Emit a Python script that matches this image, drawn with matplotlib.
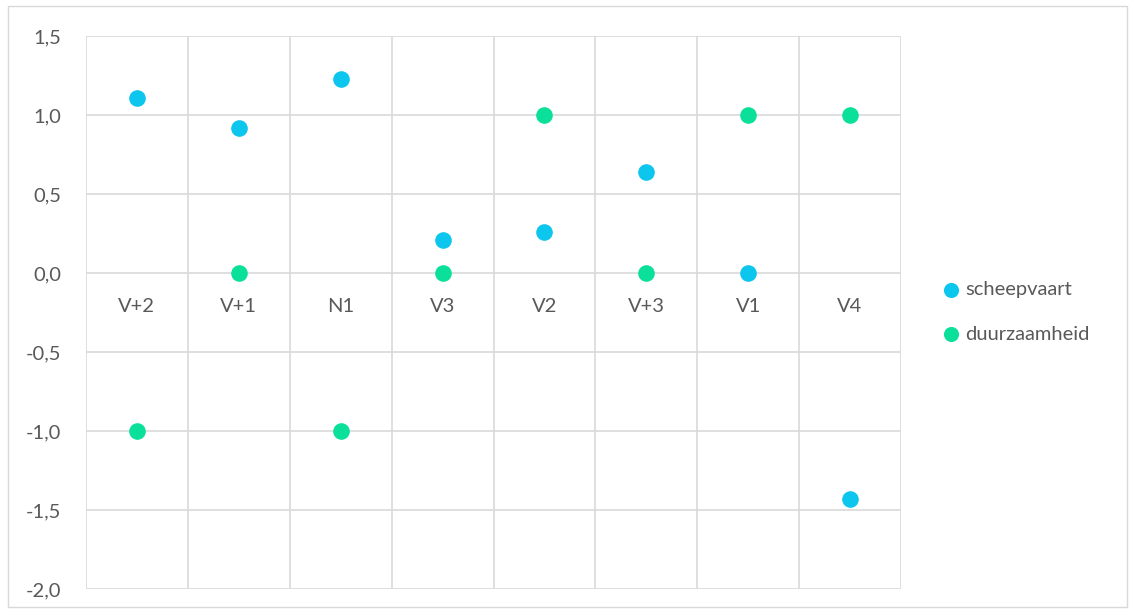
import matplotlib.pyplot as plt
from matplotlib.ticker import FixedLocator, FuncFormatter

plt.rcParams['font.family'] = ['Lato', 'DejaVu Sans']

categories = ['V+2', 'V+1', 'N1', 'V3', 'V2', 'V+3', 'V1', 'V4']
scheepvaart = [1.11, 0.92, 1.23, 0.21, 0.26, 0.64, 0.0, -1.43]
duurzaamheid = [-1, 0, -1, 0, 1, 0, 1, 1]

blue = '#0CC6EE'
green = '#0BE09A'
grey = '#595959'
gridc = '#D9D9D9'

fig = plt.figure(figsize=(11.35, 6.13), dpi=100)
# buitenrand zoals in Excel
fig.patches.append(plt.Rectangle((8 / 1135, 6 / 613), 1119 / 1135, 601 / 613,
                                 transform=fig.transFigure, fill=False,
                                 edgecolor=gridc, linewidth=1))
ax = fig.add_axes([86 / 1135, 24 / 613, 815 / 1135, 553 / 613])

x = list(range(len(categories)))
ax.scatter(x, scheepvaart, s=120, color=blue, zorder=3, label='scheepvaart')
ax.scatter(x, duurzaamheid, s=120, color=green, zorder=3, label='duurzaamheid')

ax.set_xlim(-0.5, len(categories) - 0.5)
ax.set_ylim(-2.0, 1.5)
ax.yaxis.set_major_locator(FixedLocator([-2.0, -1.5, -1.0, -0.5, 0.0, 0.5, 1.0, 1.5]))
ax.yaxis.set_major_formatter(FuncFormatter(lambda v, p: f'{v:.1f}'.replace('.', ',')))
ax.xaxis.set_major_locator(FixedLocator([i - 0.5 for i in range(len(categories) + 1)]))
ax.set_xticklabels([])
ax.grid(True, color=gridc, linewidth=1.2, zorder=0)
ax.tick_params(length=0, labelsize=14.5, labelcolor=grey, pad=18)
for s in ax.spines.values():
    s.set_visible(False)

# categorie-labels net onder de nullijn
for i, c in enumerate(categories):
    ax.annotate(c, (i, 0), xytext=(0, -24), textcoords='offset points',
                ha='center', va='center', fontsize=14.5, color=grey)

fig.legend(loc='center left', bbox_to_anchor=(913 / 1135, 1 - 312 / 613),
           frameon=False, fontsize=14.5, labelcolor=grey, handletextpad=-0.3,
           labelspacing=1.35, markerscale=0.9)

fig.savefig('out.png', dpi=100)
